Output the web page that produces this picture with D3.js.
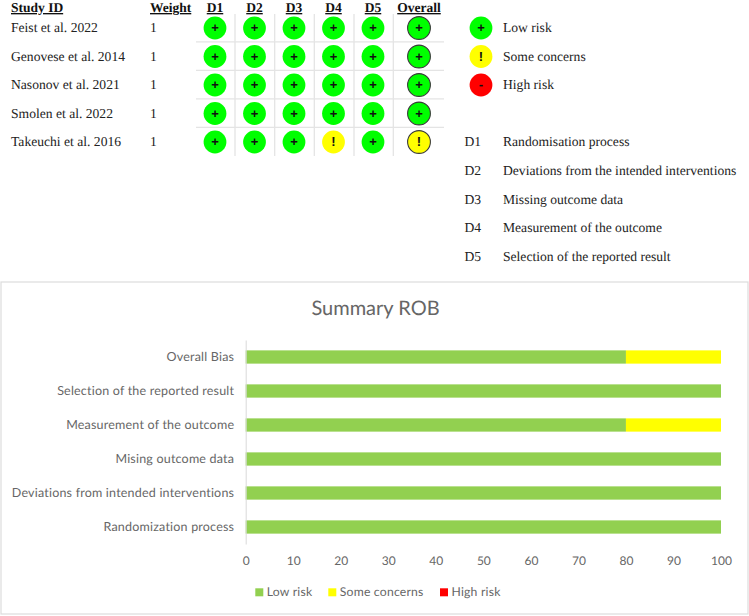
<!DOCTYPE html>
<html><head><meta charset="utf-8">
<script src="https://cdn.jsdelivr.net/npm/d3@7"></script>
<style>html,body{margin:0;padding:0;background:#fff}svg{display:block;text-rendering:geometricPrecision}</style>
</head><body><svg id="c" width="749" height="616"></svg>
<script>
const studies=["Feist et al. 2022","Genovese et al. 2014","Nasonov et al. 2021","Smolen et al. 2022","Takeuchi et al. 2016"];
const weights=[1,1,1,1,1];
const domains=["D1","D2","D3","D4","D5","Overall"];
const judgements=[["+","+","+","+","+","+"],["+","+","+","+","+","+"],["+","+","+","+","+","+"],["+","+","+","+","+","+"],["+","+","+","!","+","!"]];
const riskSymbols=["+","!","-"];
const riskLabels=["Low risk","Some concerns","High risk"];
const domainCodes=["D1","D2","D3","D4","D5"];
const domainNames=["Randomisation process","Deviations from the intended interventions","Missing outcome data","Measurement of the outcome","Selection of the reported result"];
const summaryCats=["Overall Bias","Selection of the reported result","Measurement of the outcome","Mising outcome data","Deviations from intended interventions","Randomization process"];
const lowRisk=[80,100,80,100,100,100];
const someConcerns=[20,0,20,0,0,0];
const highRisk=[0,0,0,0,0,0];
const seriesNames=["Low risk","Some concerns","High risk"];
const xTicks=[0,10,20,30,40,50,60,70,80,90,100];

const svg=d3.select("#c");
const serif="'Liberation Serif','Times New Roman',serif", sans="Lato,'Open Sans',sans-serif", symFont="'Liberation Sans',Arial,sans-serif";
const dotColor=d3.scaleOrdinal().domain(riskSymbols).range(["#00ff00","#ffff00","#ff0000"]);

// traffic-light table
const rowY=d3.scalePoint().domain(studies).range([28,142]);
const colX=d3.scaleOrdinal().domain(domains).range([215,254.5,294,333.5,373,419]);
const t=svg.append("g");
const gridCol="#e4e4e4";
[235,274.7,314.3,354,393.3].forEach(x=>t.append("line").attr("x1",x).attr("x2",x).attr("y1",14).attr("y2",156).attr("stroke",gridCol).attr("stroke-width",1.3));
studies.slice(0,-1).forEach(s=>t.append("line").attr("x1",196).attr("x2",444).attr("y1",rowY(s)+13.9).attr("y2",rowY(s)+13.9).attr("stroke",gridCol).attr("stroke-width",1.3));

const head=(x,txt,anchor)=>t.append("text").attr("x",x).attr("y",12).attr("text-anchor",anchor).attr("font-family",serif).attr("font-size",13.5).attr("font-weight","bold").attr("fill","#111").attr("text-decoration","underline").text(txt);
head(11,"Study ID","start");head(150,"Weight","start");
domains.forEach(d=>head(colX(d),d,"middle"));

const body=(x,y,txt)=>t.append("text").attr("x",x).attr("y",y).attr("font-family",serif).attr("font-size",13.6).attr("fill","#222").text(txt);
const sym=(x,y,v)=>t.append("text").attr("x",x).attr("y",y+4.4).attr("text-anchor","middle").attr("font-family",symFont).attr("font-weight","bold").attr("font-size",13).attr("fill","#111").text(v);

studies.forEach((s,i)=>{
  const y=rowY(s);
  body(11,y+4.4,s);
  body(150,y+4.4,weights[i]);
  domains.forEach((d,j)=>{
    const v=judgements[i][j], ov=d==="Overall";
    t.append("circle").attr("cx",colX(d)).attr("cy",y).attr("r",11.4).attr("fill",dotColor(v)).attr("stroke",ov?"#3a3a3a":"none").attr("stroke-width",ov?1.1:0);
    sym(colX(d),y,v);
  });
});

// dot legend
const lgY=d3.scalePoint().domain(riskLabels).range([28,85]);
riskLabels.forEach((l,i)=>{
  const y=lgY(l);
  t.append("circle").attr("cx",481).attr("cy",y).attr("r",11.4).attr("fill",dotColor(riskSymbols[i]));
  sym(481,y,riskSymbols[i]);
  body(503,y+4.4,l);
});
const dY=d3.scalePoint().domain(domainCodes).range([142,256.5]);
domainCodes.forEach((c,i)=>{
  body(464.5,dY(c)+4.4,c);
  body(503,dY(c)+4.4,domainNames[i]);
});

// summary chart
svg.append("rect").attr("x",1).attr("y",282).attr("width",747).attr("height",332).attr("fill","#fff").attr("stroke","#dcdcdc").attr("stroke-width",1.2);
svg.append("text").attr("x",375.5).attr("y",315).attr("text-anchor","middle").attr("font-family",sans).attr("font-size",20).attr("fill","#666").text("Summary ROB");

const x=d3.scaleLinear().domain([0,100]).range([245.7,721]);
const y=d3.scaleBand().domain(summaryCats).range([340,544]).paddingInner(0.61).paddingOuter(0.305);
const rows=summaryCats.map((c,i)=>({cat:c,low:lowRisk[i],some:someConcerns[i],high:highRisk[i]}));
const stack=d3.stack().keys(["low","some","high"])(rows);
const barCol=d3.scaleOrdinal().domain(["low","some","high"]).range(["#92d050","#ffff00","#ff0000"]);
svg.append("g").selectAll("g").data(stack).join("g").attr("fill",d=>barCol(d.key))
 .selectAll("rect").data(d=>d).join("rect")
 .attr("x",d=>x(d[0])).attr("width",d=>x(d[1])-x(d[0])).attr("y",d=>y(d.data.cat)).attr("height",y.bandwidth());

const yAx=svg.append("g").attr("transform","translate(245.7,0)").call(d3.axisLeft(y).tickSize(0).tickPadding(11.5));
yAx.select(".domain").attr("stroke","#d9d9d9").attr("stroke-width",1);
yAx.selectAll("text").attr("font-family",sans).attr("font-size",12.5).attr("letter-spacing",0.2).attr("fill","#666");

const xAx=svg.append("g").attr("transform","translate(0,544)").call(d3.axisBottom(x).tickValues(xTicks).tickSize(0).tickPadding(12));
xAx.select(".domain").remove();
xAx.selectAll("text").attr("font-family",sans).attr("font-size",12).attr("fill","#666");

const lgX=d3.scaleOrdinal().domain(seriesNames).range([255.3,328.3,440]);
seriesNames.forEach((n,i)=>{
  svg.append("rect").attr("x",lgX(n)).attr("y",588.3).attr("width",8).attr("height",8).attr("fill",barCol.range()[i]);
  svg.append("text").attr("x",lgX(n)+11.5).attr("y",595.5).attr("font-family",sans).attr("font-size",12.2).attr("letter-spacing",0.2).attr("fill","#666").text(n);
});
</script></body></html>
